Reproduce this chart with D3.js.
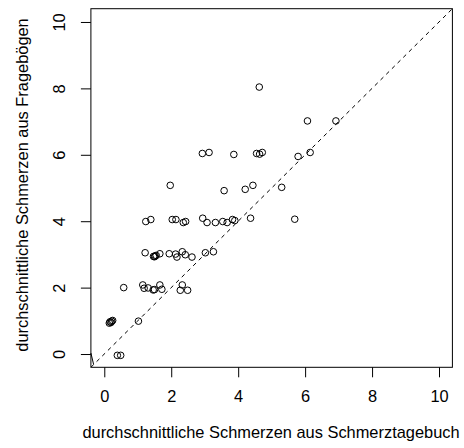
<!DOCTYPE html>
<html>
<head>
<meta charset="utf-8">
<script src="https://cdn.jsdelivr.net/npm/d3@7"></script>
<style>
  body { margin: 0; background: #fff; }
  text { font-family: "Liberation Sans", Arial, sans-serif; font-size: 16.4px; fill: #000; }
</style>
</head>
<body>
<div id="chart"></div>
<script>
// mean pain from diary (x) vs mean pain from questionnaires (y)
var diary = [
  0.39, 0.49,
  0.15, 0.17, 0.20, 0.22, 0.25, 1.02,
  0.58, 1.15, 1.19, 1.31, 1.46, 1.50, 1.66, 1.72, 2.27, 2.33, 2.49,
  1.22, 1.47, 1.50, 1.52, 1.55, 1.66, 1.94, 2.13, 2.17, 2.33, 2.42, 2.62, 3.02, 3.26,
  1.24, 1.39, 2.03, 2.14, 2.36, 2.43, 2.94, 3.07, 3.32, 3.54, 3.67, 3.83, 3.90, 4.37, 5.69,
  1.97, 3.58, 4.21, 4.44, 5.30,
  2.93, 3.13, 3.87, 4.55, 4.64, 4.72, 5.79, 6.15,
  6.07, 6.92,
  4.63
];
var questionnaire = [
  -0.04, -0.04,
  0.93, 0.97, 0.95, 0.99, 1.01, 0.99,
  2.00, 2.08, 1.98, 1.99, 1.93, 1.94, 2.08, 1.95, 1.92, 2.08, 1.92,
  3.05, 2.94, 2.93, 2.95, 2.97, 3.02, 3.02, 3.01, 2.92, 3.08, 2.99, 2.92, 3.05, 3.08,
  3.99, 4.05, 4.05, 4.05, 3.96, 3.99, 4.09, 3.96, 3.96, 3.99, 3.96, 4.05, 4.02, 4.09, 4.06,
  5.08, 4.92, 4.96, 5.08, 5.02,
  6.04, 6.07, 6.01, 6.04, 6.02, 6.07, 5.95, 6.07,
  7.02, 7.02,
  8.04
];

var xTicks = [0, 2, 4, 6, 8, 10];
var yTicks = [0, 2, 4, 6, 8, 10];
var xTitle = "durchschnittliche Schmerzen aus Schmerztagebuch";
var yTitle = "durchschnittliche Schmerzen aus Fragebögen";
var cornerMark = [[-0.4, 0.03], [-0.32, -0.31]];

var width = 464, height = 448;

var x = d3.scaleLinear().domain([-0.4, 10.4]).range([90.9, 452.4]);
var y = d3.scaleLinear().domain([-0.4, 10.4]).range([367.3, 8.7]);

var svg = d3.select("#chart")
  .append("svg")
  .attr("width", width)
  .attr("height", height);

svg.append("clipPath")
  .attr("id", "plotclip")
  .append("rect")
  .attr("x", x(-0.4)).attr("y", y(10.4))
  .attr("width", x(10.4) - x(-0.4))
  .attr("height", y(-0.4) - y(10.4));

// identity line
svg.append("line")
  .attr("clip-path", "url(#plotclip)")
  .attr("x1", x(-0.4)).attr("y1", y(-0.4))
  .attr("x2", x(10.4)).attr("y2", y(10.4))
  .attr("stroke", "#000")
  .attr("stroke-width", 1)
  .attr("stroke-dasharray", "4,4");

svg.append("path")
  .attr("d", d3.line().x(function(d){ return x(d[0]); }).y(function(d){ return y(d[1]); })(cornerMark))
  .attr("stroke", "#000")
  .attr("fill", "none")
  .attr("stroke-width", 1);

var pts = diary.map(function(d, i){ return {x: d, y: questionnaire[i]}; });

svg.selectAll(".pt")
  .data(pts)
  .enter().append("circle")
  .attr("class", "pt")
  .attr("cx", function(d){ return x(d.x); })
  .attr("cy", function(d){ return y(d.y); })
  .attr("r", 3.3)
  .attr("fill", "none")
  .attr("stroke", "#000")
  .attr("stroke-width", 1);

// box
svg.append("rect")
  .attr("x", x(-0.4)).attr("y", y(10.4))
  .attr("width", x(10.4) - x(-0.4))
  .attr("height", y(-0.4) - y(10.4))
  .attr("fill", "none")
  .attr("stroke", "#000")
  .attr("stroke-width", 1);

// x axis
var xAxis = svg.append("g")
  .attr("transform", "translate(0," + y(-0.4) + ")")
  .call(d3.axisBottom(x).tickValues(xTicks).tickSize(10).tickPadding(13).tickFormat(d3.format("d")));
xAxis.select(".domain").remove();
xAxis.selectAll("text").attr("font-family", null).attr("font-size", null);

// y axis
var yAxis = svg.append("g")
  .attr("transform", "translate(" + x(-0.4) + ",0)")
  .call(d3.axisLeft(y).tickValues(yTicks).tickSize(10).tickFormat(d3.format("d")));
yAxis.select(".domain").remove();
yAxis.selectAll("text")
  .attr("font-family", null).attr("font-size", null)
  .attr("x", null).attr("dy", null)
  .attr("text-anchor", "middle")
  .attr("transform", "translate(-26,0) rotate(-90)");

svg.append("text")
  .attr("x", 271)
  .attr("y", 438)
  .attr("text-anchor", "middle")
  .text(xTitle);

svg.append("text")
  .attr("transform", "translate(28,185) rotate(-90)")
  .attr("text-anchor", "middle")
  .text(yTitle);
</script>
</body>
</html>
